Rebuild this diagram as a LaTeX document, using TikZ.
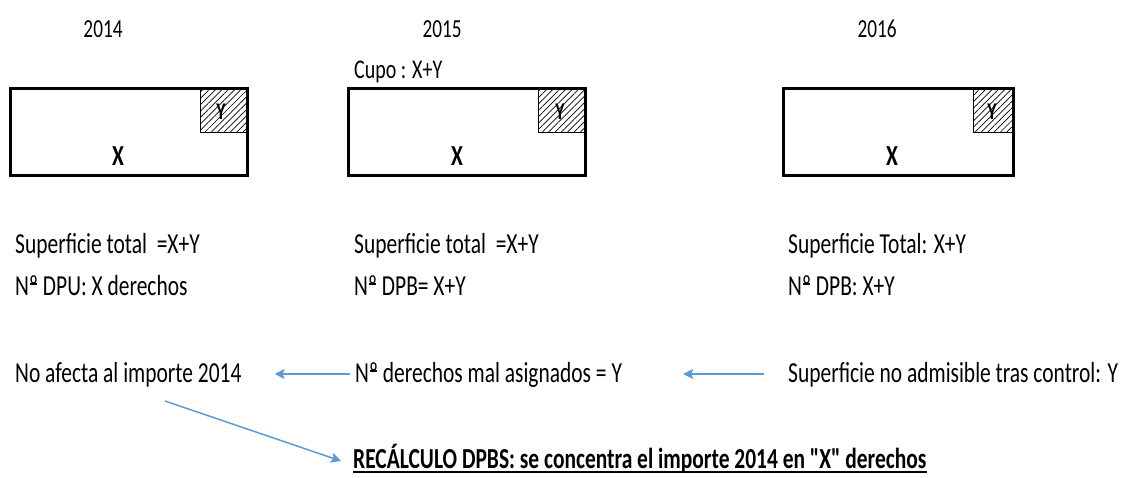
\documentclass[tikz,border=0pt]{standalone}
\usepackage{fontspec}
\setmainfont{Carlito}[FakeStretch=0.74]
\newfontfamily\plainfont{Carlito}[FakeStretch=0.74]
\usetikzlibrary{patterns.meta,arrows.meta}
\definecolor{arrblue}{RGB}{91,155,213}
\newlength\ordwd
\newcommand\numo{N\settowidth\ordwd{º}\rlap{º}\kern0.04em\raisebox{0.36em}{\rule{\dimexpr\ordwd-0.08em\relax}{0.06em}}\kern0.04em}
\newcommand\sq{{\plainfont\bfseries"}}
\begin{document}
\begin{tikzpicture}[x=1pt,y=-1pt,
  txt/.style={anchor=base west,inner sep=0pt,font=\fontsize{29}{34}\selectfont},
  year/.style={anchor=base,inner sep=0pt,font=\fontsize{26}{30}\selectfont},
  boxx/.style={draw,line width=3pt,outer sep=0pt,inner sep=0pt,minimum height=87pt,anchor=north west},
  hatchbox/.style={draw,line width=0.8pt,outer sep=0pt,inner sep=0pt,minimum width=47pt,minimum height=44pt,anchor=north east,
     pattern={Lines[angle=45,distance=4.5pt,line width=0.7pt]}},
  xlab/.style={anchor=base,inner sep=0pt,font=\fontsize{29}{34}\selectfont\bfseries},
  ylab/.style={anchor=base,inner sep=0pt,font=\fontsize{24}{28}\selectfont\bfseries},
  arr/.style={draw=arrblue,line width=1.5pt,-{Stealth[length=10pt,width=10pt,inset=2pt]}}]
\useasboundingbox (0,0) rectangle (1131,477);

% years
\node[year] (y14) at (103,37) {2014};
\node[year] (y15) at (442,37) {2015};
\node[year] (y16) at (877,37) {2016};
\node[txt,font=\fontsize{27}{32}\selectfont] (cupo) at (354,78) {Cupo : X+Y};

% boxes
\node[boxx,minimum width=237pt] (b14) at (10,88) {};
\node[boxx,minimum width=237pt] (b15) at (348,88) {};
\node[boxx,minimum width=230pt] (b16) at (783,88) {};

\node[hatchbox] (h14) at (b14.north east) {};
\node[hatchbox] (h15) at (b15.north east) {};
\node[hatchbox,minimum width=40pt] (h16) at (b16.north east) {};

\node[ylab] (yy14) at (221,119) {Y};
\node[ylab] (yy15) at (560,119) {Y};
\node[ylab] (yy16) at (992,119) {Y};

\node[xlab] (x14) at (118,165) {X};
\node[xlab] (x15) at (457,165) {X};
\node[xlab] (x16) at (892,165) {X};

% texts
\node[txt] (s14) at (15,253) {Superficie total\ \ =X+Y};
\node[txt] (d14) at (15,295) {\numo{} DPU: X derechos};
\node[txt] (s15) at (354,253) {Superficie total\ \ =X+Y};
\node[txt] (d15) at (354,295) {\numo{} DPB= X+Y};
\node[txt] (s16) at (788,253) {Superficie Total: X+Y};
\node[txt] (d16) at (788,295) {\numo{} DPB: X+Y};

\node[txt] (na) at (15,382) {No afecta al importe 2014};
\node[txt] (mal) at (355,382) {\numo{} derechos mal asignados = Y};
\node[txt] (sup) at (788,382) {Superficie no admisible tras control: Y};

\node[txt,font=\fontsize{29}{34}\selectfont\bfseries] (rec) at (353,468) {RECÁLCULO DPBS: se concentra el importe 2014 en \sq X\sq{} derechos};
\draw[line width=1.8pt] ([yshift=-4pt]rec.base west) -- ([yshift=-4pt]rec.base east);

% arrows
\draw[arr] ([xshift=-5pt,yshift=8pt]mal.base west) -- ([xshift=33pt,yshift=8pt]na.base east);
\draw[arr] ([xshift=-24pt,yshift=8pt]sup.base west) -- ([xshift=61pt,yshift=8pt]mal.base east);
\coordinate (dstart) at (165,401);
\draw[arr] (dstart) -- ([xshift=-12pt,yshift=7pt]rec.base west);
\end{tikzpicture}
\end{document}
